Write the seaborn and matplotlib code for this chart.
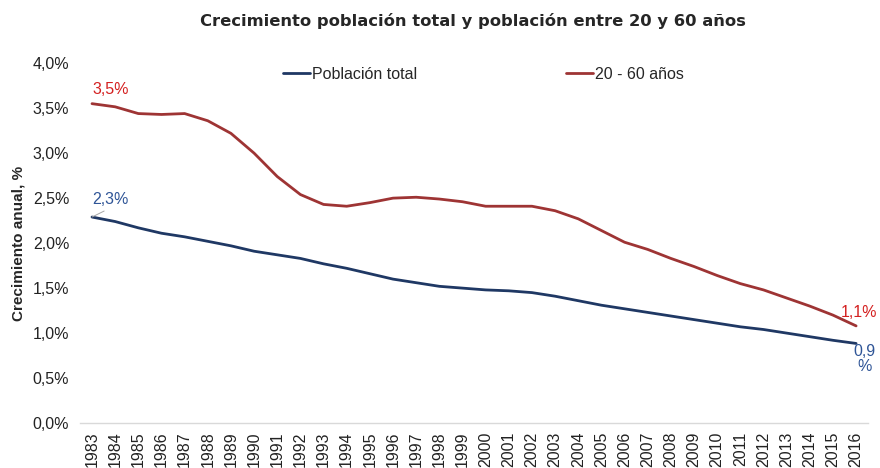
import matplotlib
matplotlib.use("Agg")
import matplotlib.pyplot as plt
import seaborn as sns
import pandas as pd
from matplotlib.ticker import FuncFormatter

years = list(range(1983, 2017))
poblacion_total = [2.29, 2.24, 2.17, 2.11, 2.07, 2.02, 1.97, 1.91, 1.87, 1.83,
                   1.77, 1.72, 1.66, 1.60, 1.56, 1.52, 1.50, 1.48, 1.47, 1.45,
                   1.41, 1.36, 1.31, 1.27, 1.23, 1.19, 1.15, 1.11, 1.07, 1.04,
                   1.00, 0.96, 0.92, 0.885]
poblacion_20_60 = [3.55, 3.515, 3.44, 3.43, 3.44, 3.36, 3.22, 3.00, 2.74, 2.54,
                   2.43, 2.41, 2.45, 2.50, 2.51, 2.49, 2.46, 2.41, 2.41, 2.41,
                   2.36, 2.27, 2.14, 2.01, 1.93, 1.83, 1.74, 1.64, 1.55, 1.48,
                   1.39, 1.30, 1.20, 1.08]
series_names = ["Población total", "20 - 60 años"]
title = "Crecimiento población total y población entre 20 y 60 años"
ylabel = "Crecimiento anual, %"

df = pd.DataFrame({
    "Año": years * 2,
    "valor": poblacion_total + poblacion_20_60,
    "serie": [series_names[0]] * len(years) + [series_names[1]] * len(years),
})

sns.set_style("white")
plt.rcParams["font.family"] = ["Liberation Sans", "DejaVu Sans"]

fig = plt.figure(figsize=(8.8, 4.68), dpi=100)
ax = fig.add_axes([0.0914, 0.096, 0.8946, 0.769])

line_colors = {series_names[0]: "#1F3864", series_names[1]: "#9E3434"}
sns.lineplot(data=df, x="Año", y="valor", hue="serie", palette=line_colors,
             linewidth=2.0, ax=ax, legend=True)

ax.set_xlim(1982.5, 2016.5)
ax.set_ylim(0, 4.0)
ax.set_yticks([0, 0.5, 1.0, 1.5, 2.0, 2.5, 3.0, 3.5, 4.0])
ax.yaxis.set_major_formatter(FuncFormatter(lambda v, p: f"{v:.1f}%".replace(".", ",")))
ax.set_xticks(years)
ax.set_xticklabels([str(y) for y in years], rotation=90)
ax.tick_params(axis="both", labelsize=11.5, colors="#222222", length=0)
ax.tick_params(axis="x", pad=6)
ax.tick_params(axis="y", pad=8)
ax.set_xlabel("")
ax.set_ylabel(ylabel, fontsize=11, fontweight="bold")
ax.yaxis.set_label_coords(-0.07, 0.5)

for s in ["left", "right", "top"]:
    ax.spines[s].set_visible(False)
ax.spines["bottom"].set_color("#D9D9D9")
ax.spines["bottom"].set_linewidth(1.0)

leg = ax.legend(loc="upper center", bbox_to_anchor=(0.512, 1.03), ncol=2,
                frameon=False, fontsize=11.5, columnspacing=9.3,
                handlelength=1.7, handletextpad=0.15)
for h in leg.get_lines():
    h.set_linewidth(2.0)

fig.text(0.537, 0.955, title, ha="center", va="center", fontsize=11.8,
         fontweight="bold", family=["DejaVu Sans"])

red_lbl = "#D42020"
blue_lbl = "#2F5597"
ax.text(years[0], poblacion_20_60[0] + 0.07, "3,5%", color=red_lbl, fontsize=11.5,
        ha="left", va="bottom")
ax.annotate("2,3%", xy=(years[0], poblacion_total[0]),
            xytext=(years[0], poblacion_total[0] + 0.11), color=blue_lbl,
            fontsize=11.5, ha="left", va="bottom",
            arrowprops=dict(arrowstyle="-", color="#A6A6A6", lw=0.7,
                            shrinkA=1, shrinkB=0, relpos=(0.55, 0.0)))
ax.text(years[-1] + 0.12, poblacion_20_60[-1] + 0.07, "1,1%", color=red_lbl,
        fontsize=11.5, ha="center", va="bottom")
ax.text(years[-1] + 0.35, poblacion_total[-1] - 0.005, "0,9\n%", color=blue_lbl,
        fontsize=11.5, ha="center", va="top", linespacing=1.05)

fig.savefig("out.png", dpi=100)
